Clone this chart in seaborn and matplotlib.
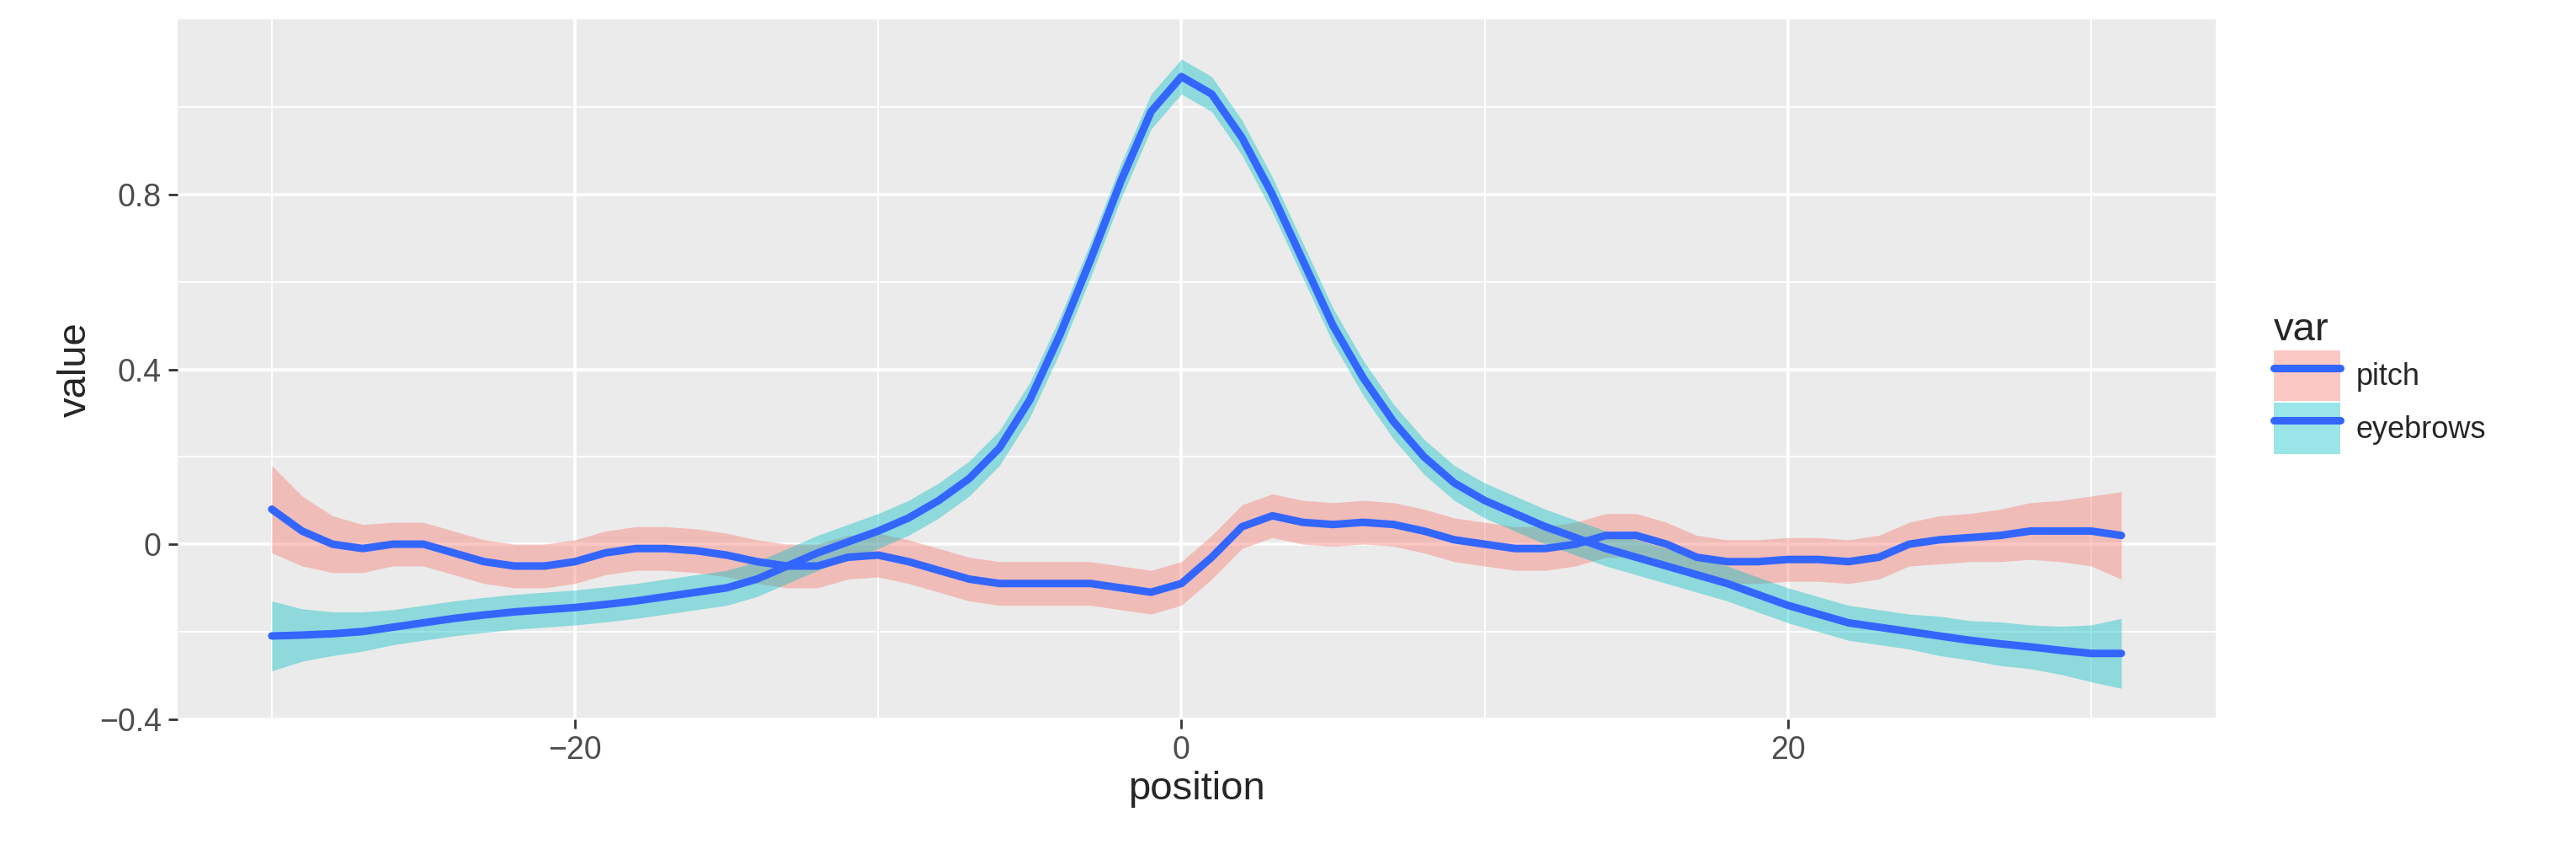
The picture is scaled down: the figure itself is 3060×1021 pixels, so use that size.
import numpy as np
import pandas as pd
import seaborn as sns
import matplotlib.pyplot as plt
from matplotlib.patches import Patch
from matplotlib.lines import Line2D

position = list(range(-30, 32))

pitch = [0.08, 0.03, 0.0, -0.01, 0.0, 0.0, -0.02, -0.04, -0.05, -0.05,
         -0.04, -0.02, -0.01, -0.01, -0.015, -0.025, -0.04, -0.05, -0.05, -0.03,
         -0.025, -0.04, -0.06, -0.08, -0.09, -0.09, -0.09, -0.09, -0.10, -0.11,
         -0.09, -0.03, 0.04, 0.065, 0.05, 0.045, 0.05, 0.045, 0.03, 0.01,
         0.0, -0.01, -0.01, 0.0, 0.02, 0.02, 0.0, -0.03, -0.04, -0.04,
         -0.035, -0.035, -0.04, -0.03, 0.0, 0.01, 0.015, 0.02, 0.03, 0.03,
         0.03, 0.02]
pitch_se = [0.10, 0.08, 0.065, 0.055, 0.05, 0.05, 0.05, 0.05, 0.05, 0.05,
            0.05, 0.05, 0.05, 0.05, 0.05, 0.05, 0.05, 0.05, 0.05, 0.05,
            0.05, 0.05, 0.05, 0.05, 0.05, 0.05, 0.05, 0.05, 0.05, 0.05,
            0.05, 0.05, 0.05, 0.05, 0.05, 0.05, 0.05, 0.05, 0.05, 0.05,
            0.05, 0.05, 0.05, 0.05, 0.05, 0.05, 0.05, 0.05, 0.05, 0.05,
            0.05, 0.05, 0.05, 0.05, 0.05, 0.055, 0.055, 0.06, 0.065, 0.07,
            0.08, 0.10]

eyebrows = [-0.21, -0.208, -0.205, -0.20, -0.19, -0.18, -0.17, -0.162, -0.155, -0.15,
            -0.145, -0.138, -0.13, -0.12, -0.11, -0.10, -0.08, -0.05, -0.02, 0.005,
            0.03, 0.06, 0.10, 0.15, 0.22, 0.33, 0.48, 0.65, 0.83, 0.99,
            1.07, 1.03, 0.93, 0.80, 0.65, 0.50, 0.38, 0.28, 0.20, 0.14,
            0.10, 0.07, 0.04, 0.015, -0.01, -0.03, -0.05, -0.07, -0.09, -0.115,
            -0.14, -0.16, -0.18, -0.19, -0.20, -0.21, -0.22, -0.228, -0.235, -0.243,
            -0.25, -0.25]
eyebrows_se = [0.08, 0.06, 0.05, 0.045, 0.04, 0.04, 0.04, 0.04, 0.04, 0.04,
               0.04, 0.04, 0.04, 0.04, 0.04, 0.04, 0.04, 0.04, 0.04, 0.04,
               0.04, 0.04, 0.04, 0.04, 0.04, 0.04, 0.04, 0.04, 0.04, 0.04,
               0.04, 0.04, 0.04, 0.04, 0.04, 0.04, 0.04, 0.04, 0.04, 0.04,
               0.04, 0.04, 0.04, 0.04, 0.04, 0.04, 0.04, 0.04, 0.04, 0.04,
               0.04, 0.04, 0.04, 0.04, 0.04, 0.045, 0.045, 0.05, 0.05, 0.055,
               0.065, 0.08]

variables = ["pitch", "eyebrows"]
fills = ["#F8766D", "#00BFC4"]
line_color = "#3366FF"

df = pd.concat([
    pd.DataFrame({"position": position, "value": pitch, "se": pitch_se, "var": "pitch"}),
    pd.DataFrame({"position": position, "value": eyebrows, "se": eyebrows_se, "var": "eyebrows"}),
])

sns.set_style("darkgrid", {"axes.facecolor": "#EBEBEB", "grid.color": "white",
                           "xtick.bottom": True, "ytick.left": True})
plt.rcParams["font.family"] = ["Liberation Sans", "DejaVu Sans"]

fig, ax = plt.subplots(figsize=(30.6, 10.21), dpi=100)
fig.subplots_adjust(left=0.069, right=0.86, top=0.977, bottom=0.164)

for v, c in zip(variables, fills):
    d = df[df["var"] == v]
    ax.fill_between(d["position"], d["value"] - d["se"], d["value"] + d["se"],
                    color=c, alpha=0.4, linewidth=0, zorder=2)
for v in variables:
    d = df[df["var"] == v]
    sns.lineplot(data=d, x="position", y="value", color=line_color, linewidth=6.5,
                 ax=ax, zorder=3)

ax.set_xlim(-33.1, 34.1)
ax.set_ylim(-0.4, 1.2)
ax.set_xticks([-20, 0, 20])
ax.set_xticklabels(["\u221220", "0", "20"])
ax.set_yticks([-0.4, 0, 0.4, 0.8])
ax.set_yticklabels(["\u22120.4", "0", "0.4", "0.8"])
ax.set_xticks([-30, -10, 10, 30], minor=True)
ax.set_yticks([-0.2, 0.2, 0.6, 1.0], minor=True)
ax.grid(which="major", color="white", linewidth=2.6)
ax.grid(which="minor", color="white", linewidth=1.3)
ax.set_axisbelow(True)
ax.tick_params(axis="both", which="major", labelsize=27, labelcolor="#4D4D4D",
               length=8, width=2, color="#333333", pad=6, bottom=True, left=True)
ax.tick_params(axis="both", which="minor", length=0)
ax.set_xlabel("position", fontsize=34)
ax.set_ylabel("value", fontsize=34)
for s in ax.spines.values():
    s.set_visible(False)

handles = [(Patch(facecolor=c, alpha=0.4, edgecolor="none"),
            Line2D([], [], color=line_color, linewidth=6.5)) for c in fills]
leg = fig.legend(handles, variables, title="var", loc="center left",
                 bbox_to_anchor=(0.872, 0.555), frameon=False, fontsize=26,
                 title_fontsize=34, handlelength=2.2, handleheight=2.2,
                 labelspacing=0.05, handletextpad=0.5)
leg._legend_box.align = "left"

fig.savefig("out.png", dpi=100)
